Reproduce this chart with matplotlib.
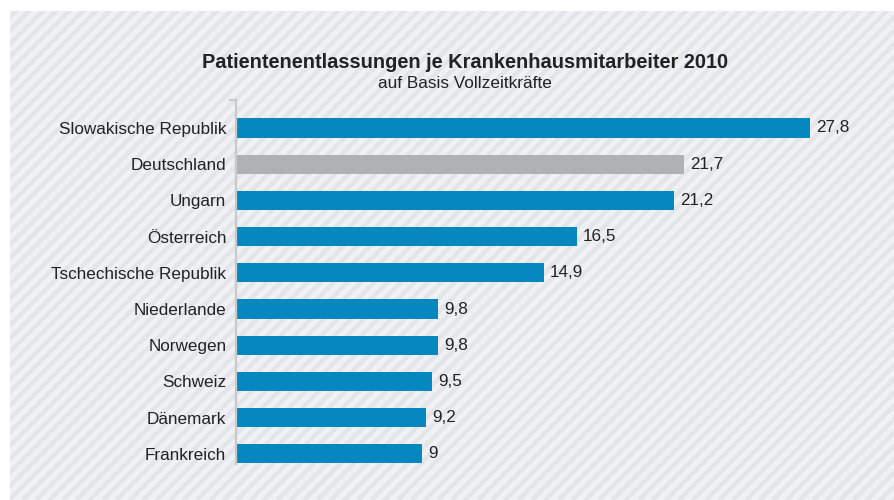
import numpy as np
import matplotlib.pyplot as plt
from matplotlib.patches import Rectangle
from matplotlib.collections import LineCollection

plt.rcParams['font.family'] = ['Liberation Sans', 'DejaVu Sans']

laender = ['Slowakische Republik', 'Deutschland', 'Ungarn', 'Österreich',
           'Tschechische Republik', 'Niederlande', 'Norwegen', 'Schweiz',
           'Dänemark', 'Frankreich']
werte = [27.8, 21.7, 21.2, 16.5, 14.9, 9.8, 9.8, 9.5, 9.2, 9.0]
beschriftung = ['27,8', '21,7', '21,2', '16,5', '14,9', '9,8', '9,8', '9,5', '9,2', '9']

blau = '#0787c0'
grau = '#b0b1b5'
farben = [grau if l == 'Deutschland' else blau for l in laender]

W, H = 894, 500
fig = plt.figure(figsize=(W / 100, H / 100), dpi=100)
fig.patch.set_facecolor('white')

# gestreifter Hintergrund
bg = Rectangle((10, 0), W, H - 11, transform=None,
               facecolor='#eff1f4', linewidth=0, zorder=0)
fig.patches.append(bg)
periode = 13.4
segs = [[(c, 0), (c + H, H)] for c in np.arange(-H, W + periode, periode)]
streifen = LineCollection(segs, colors='#e3e5e9', linewidths=3.2,
                          transform=None, zorder=0.5)
streifen.set_clip_path(bg)
fig.add_artist(streifen)

x0, x1 = 236, 860
y_top, y_bot = 100, 472
ax = fig.add_axes([x0 / W, 1 - y_bot / H, (x1 - x0) / W, (y_bot - y_top) / H])
ax.set_zorder(2)
ax.patch.set_alpha(0)

y = np.arange(len(laender))
ax.barh(y, werte, height=0.53, color=farben, zorder=2)
for yi, v, t in zip(y, werte, beschriftung):
    ax.text(v + 0.3, yi, t, va='center', ha='left', fontsize=12.3, color='#222222')

ax.set_xlim(0, (x1 - x0) / 20.65)
ax.set_ylim(9.5, -0.773)
ax.set_yticks(y)
ax.set_yticklabels(laender, fontsize=12.3, color='#222222')
ax.tick_params(axis='y', length=0, pad=7)
ax.set_xticks([])
for s in ['top', 'right', 'bottom']:
    ax.spines[s].set_visible(False)
ax.spines['left'].set_color('#c8c9cc')
ax.spines['left'].set_linewidth(1.6)
ax.spines['left'].set_bounds(9.27, -0.773)
ax.plot([-0.3, 0], [-0.773, -0.773], color='#c8c9cc', lw=1.6, clip_on=False)

fig.text(465 / W, 1 - 62 / H, 'Patientenentlassungen je Krankenhausmitarbeiter 2010',
         ha='center', va='center', fontsize=14.4, fontweight='bold', color='#222222')
fig.text(465 / W, 1 - 84 / H, 'auf Basis Vollzeitkräfte',
         ha='center', va='center', fontsize=12.4, color='#222222')

fig.savefig('out.png', dpi=100)
